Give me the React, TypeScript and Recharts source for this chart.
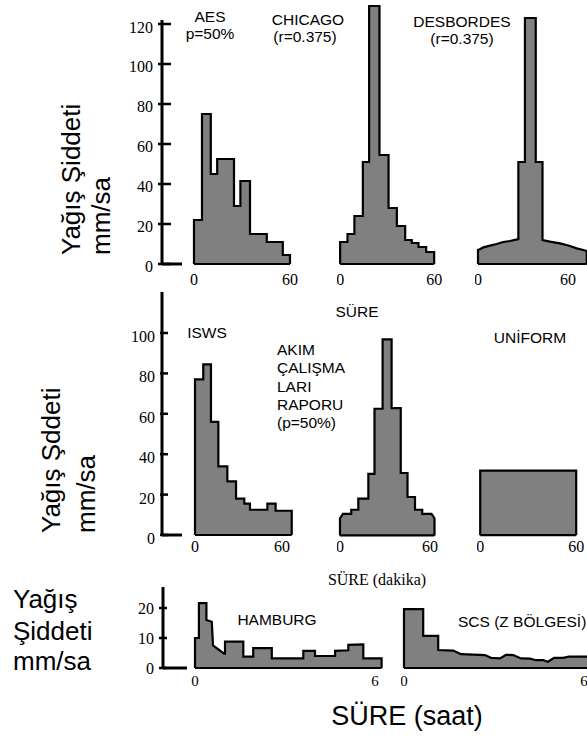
import React from 'react';
import { AreaChart, Area, XAxis, YAxis, ReferenceLine } from 'recharts';

// ---------- DATA ----------
// Step hyetographs: block boundaries (min) and intensities (mm/sa)
const aesBreaks = [0, 5, 10.5, 14.5, 25, 29, 35, 45.5, 55.5, 60];
const aesValues = [22, 75, 45, 52.5, 29, 41.5, 15, 11, 4.5];

const chicagoBreaks = [0, 4.7, 9.1, 14.5, 18.5, 25.1, 30.9, 36.2, 41.5, 45.7, 50, 54.9, 60];
const chicagoValues = [11, 15, 24, 51, 129, 54.5, 28, 19, 12, 10.5, 8.5, 6];

const iswsBreaks = [0, 5.7, 11, 16.1, 22.3, 28.3, 34, 37.9, 49.9, 55.6, 66.7];
const iswsValues = [77, 84.5, 56, 34, 26.5, 18, 15.5, 12.5, 15.5, 12];

const uniformBreaks = [0, 60];
const uniformValues = [32];

// Outlined hyetographs: outline x (time) and y (intensity)
const desbordesX = [0, 0, 1.5, 3.6, 8, 12.4, 16.9, 21.3, 26.9, 26.9, 31.3, 31.3, 38.5, 38.5, 43, 43, 48, 54.7, 61.3, 65.8, 70.2, 72.5, 72.5];
const desbordesY = [0, 7, 7.5, 8.3, 9.2, 10, 11, 11.5, 12.4, 51, 51, 123, 123, 51, 51, 12, 11.2, 10.3, 9, 7.8, 7, 6.5, 0];

const akimX = [0, 0, 2, 7.5, 7.5, 12.2, 12.2, 18.9, 18.9, 23, 23, 28.4, 28.4, 34.4, 34.4, 40.5, 40.5, 45, 45, 50, 50, 54.8, 54.8, 61, 63, 63];
const akimY = [0, 8.5, 10.7, 10.7, 12.7, 12.7, 18.2, 18.2, 30.5, 30.5, 62.7, 62.7, 97, 97, 63, 63, 30.9, 30.9, 19, 19, 12.7, 12.7, 10.7, 10.7, 8.5, 0];

const hamburgX = [0, 0, 0.13, 0.13, 0.38, 0.38, 0.56, 0.6, 0.97, 1.0, 1.0, 1.61, 1.61, 1.94, 1.94, 2.56, 2.56, 3.61, 3.61, 4.0, 4.0, 4.67, 4.67, 5.11, 5.11, 5.61, 5.61, 6.22, 6.22];
const hamburgY = [0, 10, 10, 21.6, 21.6, 16, 15.4, 7.5, 4.8, 4.8, 8.8, 8.8, 3.8, 3.8, 6.6, 6.6, 3.2, 3.2, 5.7, 5.7, 4.0, 4.0, 5.7, 5.9, 7.7, 7.9, 3.2, 3.2, 0];

const scsX = [0, 0, 0.64, 0.64, 1.14, 1.14, 1.64, 1.9, 2.7, 2.9, 3.2, 3.4, 3.64, 3.9, 4.2, 4.4, 4.64, 4.8, 5.0, 5.3, 5.5, 6.2, 6.2];
const scsY = [0, 19.6, 19.6, 10.7, 10.7, 6, 5.8, 4.6, 4.3, 3.4, 3.2, 4.4, 4.3, 3.2, 3.1, 2.6, 2.6, 2.1, 3.4, 3.4, 3.8, 3.8, 0];

// Tick labels
const minuteTicks = [0, 60];
const hourTicks = [0, 6];
const yTicksTop = [0, 20, 40, 60, 80, 100, 120];
const yTicksMid = [0, 20, 40, 60, 80, 100];
const yTicksBottom = [0, 10, 20];

// ---------- helpers ----------
type Pt = { x: number; y: number };
function steps(breaks: number[], values: number[]): Pt[] {
  const pts: Pt[] = [{ x: breaks[0], y: 0 }];
  values.forEach((v, i) => {
    pts.push({ x: breaks[i], y: v });
    pts.push({ x: breaks[i + 1], y: v });
  });
  pts.push({ x: breaks[breaks.length - 1], y: 0 });
  return pts;
}
function outline(xs: number[], ys: number[]): Pt[] {
  return xs.map((x, i) => ({ x, y: ys[i] }));
}

const SANS = '"Liberation Sans", Arial, Helvetica, sans-serif';
const SERIF = '"Liberation Serif", "Times New Roman", serif';

interface YCfg {
  ticks: number[];
  size: number;
  tickL: number;
  tickR: number;
  stub: number;
  labelDx: number;
  labelDy: number;
}

interface PanelProps {
  pts: Pt[];
  x0: number;
  kx: number;
  xMin: number;
  xMax: number;
  base: number;
  ky: number;
  yMax: number;
  xTicks: number[];
  xEnd: number;
  xLabelDy: number;
  xLabelSize: number;
  yAxis?: YCfg;
}

function Panel(p: PanelProps) {
  const yW = p.yAxis ? 60 : 0;
  const xH = 30;
  const mr = 20;
  const plotW = (p.xMax - p.xMin) * p.kx;
  const plotH = p.yMax * p.ky;
  const left = p.x0 + p.xMin * p.kx - yW;
  const top = p.base - plotH;
  const W = yW + plotW + mr;
  const H = plotH + xH;
  const xTick = (props: any) => {
    const { x, y, payload } = props;
    return (
      <text x={x} y={y + p.xLabelDy} textAnchor="middle" fontFamily={SERIF} fontSize={p.xLabelSize} fill="#000">
        {payload.value}
      </text>
    );
  };
  const yc = p.yAxis;
  const yTick = (props: any) => {
    const { x, y, payload } = props;
    if (!yc) return <g />;
    return (
      <g>
        <line x1={x - yc.tickL} x2={x + yc.tickR} y1={y} y2={y} stroke="#000" strokeWidth={2.5} />
        {payload.value === 0 && (
          <line x1={x} x2={x + yc.stub} y1={y} y2={y} stroke="#000" strokeWidth={3} />
        )}
        <text x={x - yc.labelDx} y={y + yc.labelDy} textAnchor="end" fontFamily={SERIF} fontSize={yc.size} fill="#000">
          {payload.value}
        </text>
      </g>
    );
  };
  return (
    <div style={{ position: 'absolute', left, top, width: W, height: H }}>
      <AreaChart width={W} height={H} data={p.pts} margin={{ top: 0, right: mr, bottom: 0, left: 0 }}>
        <XAxis
          dataKey="x"
          type="number"
          domain={[p.xMin, p.xMax]}
          ticks={p.xTicks}
          interval={0}
          height={xH}
          axisLine={false}
          tickLine={false}
          tickSize={0}
          tickMargin={0}
          tick={xTick}
        />
        {yc ? (
          <YAxis
            type="number"
            domain={[0, p.yMax]}
            ticks={yc.ticks}
            interval={0}
            width={yW}
            axisLine={{ stroke: '#000', strokeWidth: 3 }}
            tickLine={false}
            tickSize={0}
            tickMargin={0}
            tick={yTick}
          />
        ) : (
          <YAxis hide type="number" domain={[0, p.yMax]} />
        )}
        <Area
          type="linear"
          dataKey="y"
          stroke="#000"
          strokeWidth={2.2}
          fill="#808080"
          fillOpacity={1}
          dot={false}
          activeDot={false}
          isAnimationActive={false}
        />
        <ReferenceLine
          segment={[{ x: 0, y: 0 }, { x: p.xEnd, y: 0 }]}
          stroke="#000"
          strokeWidth={2.2}
        />
      </AreaChart>
    </div>
  );
}

export default function App() {
  const row1 = { base: 264, ky: 2 };
  const row2 = { base: 535, ky: 2.02 };
  const row3 = { base: 668, ky: 3 };
  return (
    <div style={{ position: 'absolute', left: 0, top: 0, width: 587, height: 736, overflow: 'hidden', background: '#fff' }}>
      {/* Row 1 */}
      <Panel pts={steps(aesBreaks, aesValues)} x0={194} kx={1.6} xMin={-20} xMax={62} base={row1.base} ky={row1.ky} yMax={122}
        xTicks={minuteTicks} xEnd={60} xLabelDy={21} xLabelSize={16}
        yAxis={{ ticks: yTicksTop, size: 16, tickL: 4, tickR: 9, stub: 20, labelDx: 9, labelDy: 8.5 }} />
      <Panel pts={steps(chicagoBreaks, chicagoValues)} x0={340} kx={1.567} xMin={-2} xMax={62} base={row1.base} ky={row1.ky} yMax={132}
        xTicks={minuteTicks} xEnd={60} xLabelDy={21} xLabelSize={16} />
      <Panel pts={outline(desbordesX, desbordesY)} x0={478} kx={1.5} xMin={-2} xMax={76} base={row1.base} ky={row1.ky} yMax={132}
        xTicks={minuteTicks} xEnd={72.5} xLabelDy={21} xLabelSize={16} />

      {/* Row 2 */}
      <Panel pts={steps(iswsBreaks, iswsValues)} x0={195} kx={1.45} xMin={-22.76} xMax={70} base={row2.base} ky={row2.ky} yMax={120.3}
        xTicks={minuteTicks} xEnd={66.7} xLabelDy={17} xLabelSize={16}
        yAxis={{ ticks: yTicksMid, size: 16, tickL: 2, tickR: 6, stub: 20, labelDx: 7, labelDy: 9 }} />
      <Panel pts={outline(akimX, akimY)} x0={340} kx={1.5} xMin={-2} xMax={66} base={row2.base} ky={row2.ky} yMax={120}
        xTicks={minuteTicks} xEnd={63} xLabelDy={17} xLabelSize={16} />
      <Panel pts={steps(uniformBreaks, uniformValues)} x0={480} kx={1.6} xMin={-2} xMax={64} base={row2.base} ky={row2.ky} yMax={60}
        xTicks={minuteTicks} xEnd={60} xLabelDy={17} xLabelSize={16} />

      {/* Row 3 */}
      <Panel pts={outline(hamburgX, hamburgY)} x0={195} kx={30} xMin={-1.067} xMax={6.4} base={row3.base} ky={row3.ky} yMax={27}
        xTicks={hourTicks} xEnd={6.22} xLabelDy={18} xLabelSize={15}
        yAxis={{ ticks: yTicksBottom, size: 16, tickL: 4, tickR: 4, stub: 24, labelDx: 9, labelDy: 6.5 }} />
      <Panel pts={outline(scsX, scsY)} x0={404} kx={30} xMin={-0.1} xMax={6.4} base={row3.base} ky={row3.ky} yMax={27}
        xTicks={hourTicks} xEnd={6.2} xLabelDy={18} xLabelSize={15} />

      {/* Text labels */}
      <svg width={587} height={736} style={{ position: 'absolute', left: 0, top: 0, pointerEvents: 'none' }}>
        <g fontFamily={SANS} fill="#000">
          <text transform="translate(80,255) rotate(-90)" fontSize={26}>Yağış Şiddeti</text>
          <text transform="translate(110,255) rotate(-90)" fontSize={26}>mm/sa</text>
          <text transform="translate(60,533) rotate(-90)" fontSize={26}>Yağış Şddeti</text>
          <text transform="translate(95,533) rotate(-90)" fontSize={26}>mm/sa</text>
          <text x={13} y={608} fontSize={26}>Yağış</text>
          <text x={13} y={640} fontSize={26}>Şiddeti</text>
          <text x={13} y={670} fontSize={26}>mm/sa</text>

          <text x={210} y={22} fontSize={15.5} textAnchor="middle">AES</text>
          <text x={210} y={39} fontSize={15.5} textAnchor="middle">p=50%</text>
          <text x={308} y={25} fontSize={15.5} textAnchor="middle">CHICAGO</text>
          <text x={305} y={42} fontSize={15.5} textAnchor="middle">(r=0.375)</text>
          <text x={462} y={27} fontSize={15.5} textAnchor="middle">DESBORDES</text>
          <text x={462} y={44} fontSize={15.5} textAnchor="middle">(r=0.375)</text>

          <text x={357} y={317} fontSize={15.5} textAnchor="middle">SÜRE</text>
          <text x={207} y={338} fontSize={15.5} textAnchor="middle">ISWS</text>
          <text x={277} y={355} fontSize={15.5}>AKIM</text>
          <text x={277} y={373} fontSize={15.5}>ÇALIŞMA</text>
          <text x={277} y={392} fontSize={15.5}>LARI</text>
          <text x={277} y={410} fontSize={15.5}>RAPORU</text>
          <text x={277} y={428} fontSize={15.5}>(p=50%)</text>
          <text x={530} y={343} fontSize={15.5} textAnchor="middle">UNİFORM</text>

          <text x={377} y={585} fontSize={16} fontFamily={SERIF} textAnchor="middle">SÜRE (dakika)</text>
          <text x={277} y={625} fontSize={15.5} textAnchor="middle">HAMBURG</text>
          <text x={458} y={627} fontSize={15.5}>SCS (Z BÖLGESİ)</text>
          <text x={407} y={725} fontSize={27} textAnchor="middle">SÜRE (saat)</text>
        </g>
      </svg>
    </div>
  );
}
